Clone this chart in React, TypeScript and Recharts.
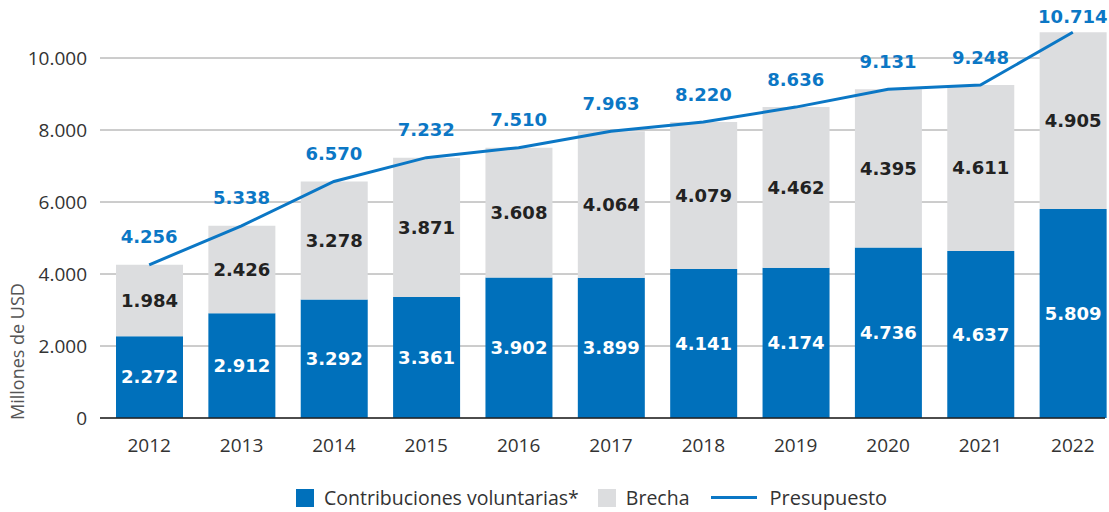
import { Bar, CartesianGrid, ComposedChart, LabelList, Line, XAxis, YAxis, Label } from "recharts";

const years = ["2012", "2013", "2014", "2015", "2016", "2017", "2018", "2019", "2020", "2021", "2022"];
const contribuciones = [2272, 2912, 3292, 3361, 3902, 3899, 4141, 4174, 4736, 4637, 5809];
const brecha = [1984, 2426, 3278, 3871, 3608, 4064, 4079, 4462, 4395, 4611, 4905];
const presupuesto = [4256, 5338, 6570, 7232, 7510, 7963, 8220, 8636, 9131, 9248, 10714];
const yTicks = [0, 2000, 4000, 6000, 8000, 10000];

const BLUE = "#0070bb";
const LINE_BLUE = "#0b77c5";
const GREY = "#dcdddf";
const TEXT = "#333333";
const FONT = "'Open Sans', sans-serif";
const BOLD_FONT = "'DejaVu Sans', sans-serif";

const fmt = (v: unknown) => String(v).replace(/\B(?=(\d{3})+(?!\d))/g, ".");

const data = years.map((year, i) => ({
  year,
  contribuciones: contribuciones[i],
  brecha: brecha[i],
  presupuesto: presupuesto[i],
}));

function YLabel(props: any) {
  const vb = props.viewBox || { y: 0, height: 0 };
  const y = vb.y + vb.height + 2;
  return (
    <text
      x={24}
      y={y}
      transform={`rotate(-90, 24, ${y})`}
      textAnchor="start"
      fontFamily={FONT}
      fontSize={18}
      fill="#555"
    >
      Millones de USD
    </text>
  );
}

// budget value above each line point; kept inside the top edge
function BudgetLabel(props: any) {
  const { x, y, value } = props;
  const cy = Math.max(Number(y) - 28, 17);
  return (
    <text
      x={x}
      y={cy}
      dy="0.36em"
      textAnchor="middle"
      fill={LINE_BLUE}
      fontFamily={BOLD_FONT}
      fontSize={18}
      fontWeight={700}
    >
      {fmt(value)}
    </text>
  );
}

function LegendRow() {
  const item = { display: "flex", alignItems: "center" } as const;
  return (
    <div
      style={{
        position: "absolute",
        left: 296,
        top: 484,
        display: "flex",
        alignItems: "center",
        fontFamily: FONT,
        fontSize: 19.5,
        color: TEXT,
        whiteSpace: "nowrap",
      }}
    >
      <div style={{ ...item, marginRight: 19 }}>
        <span style={{ width: 18, height: 18, background: BLUE, marginRight: 10 }} />
        Contribuciones voluntarias*
      </div>
      <div style={{ ...item, marginRight: 22 }}>
        <span style={{ width: 18, height: 18, background: GREY, marginRight: 10 }} />
        Brecha
      </div>
      <div style={item}>
        <span style={{ width: 46, height: 3, background: LINE_BLUE, marginRight: 12 }} />
        <span style={{ fontSize: 20 }}>Presupuesto</span>
      </div>
    </div>
  );
}

export default function App() {
  return (
    <div style={{ position: "absolute", left: 0, top: 0, width: 1109, height: 512, overflow: "hidden", background: "#fff" }}>
      <ComposedChart
        width={1109}
        height={512}
        data={data}
        margin={{ top: 22, right: 4, bottom: 64, left: 10 }}
        barSize={67}
      >
        <CartesianGrid vertical={false} horizontalValues={yTicks} stroke="#9a9a9a" strokeWidth={1} />
        <XAxis
          dataKey="year"
          height={30}
          padding={{ left: 3, right: -14 }}
          axisLine={{ stroke: "#222", strokeWidth: 1.5 }}
          tickLine={false}
          tickSize={0}
          tickMargin={21}
          tick={{ fontFamily: FONT, fontSize: 19, fill: TEXT }}
        />
        <YAxis
          width={90}
          domain={[0, 11000]}
          ticks={yTicks}
          interval={0}
          axisLine={false}
          tickLine={false}
          tickSize={0}
          tickMargin={13}
          tickFormatter={fmt}
          tick={{ fontFamily: FONT, fontSize: 19, fill: TEXT }}
        >
          <Label content={<YLabel />} />
        </YAxis>
        <Bar dataKey="contribuciones" stackId="a" fill={BLUE} isAnimationActive={false}>
          <LabelList
            dataKey="contribuciones"
            position="center"
            formatter={fmt}
            fill="#fff"
            style={{ fontFamily: BOLD_FONT, fontSize: 18, fontWeight: 700 }}
          />
        </Bar>
        <Bar dataKey="brecha" stackId="a" fill={GREY} isAnimationActive={false}>
          <LabelList
            dataKey="brecha"
            position="center"
            formatter={fmt}
            fill="#222"
            style={{ fontFamily: BOLD_FONT, fontSize: 18, fontWeight: 700 }}
          />
        </Bar>
        <Line
          dataKey="presupuesto"
          type="linear"
          stroke={LINE_BLUE}
          strokeWidth={3}
          dot={false}
          activeDot={false}
          isAnimationActive={false}
        >
          <LabelList dataKey="presupuesto" content={<BudgetLabel />} />
        </Line>
      </ComposedChart>
      <LegendRow />
    </div>
  );
}
